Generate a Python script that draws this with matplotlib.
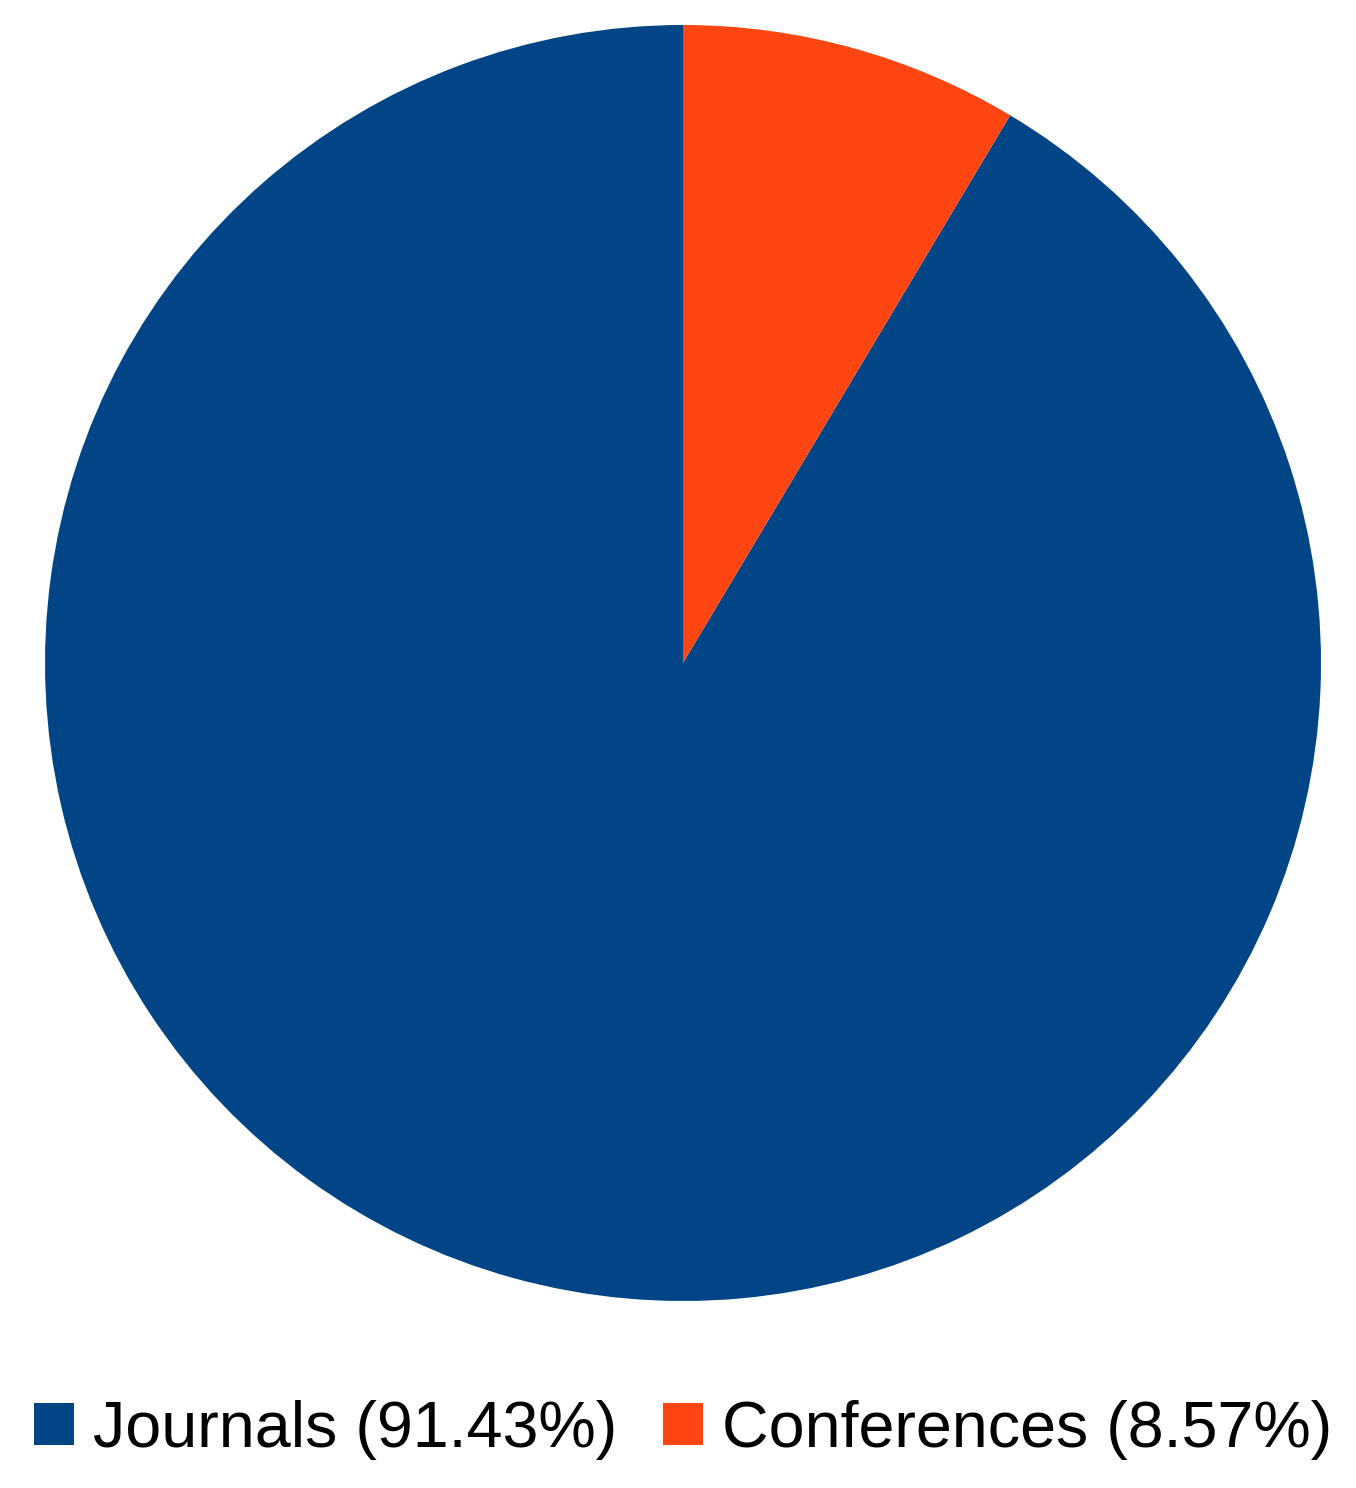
import matplotlib
matplotlib.use('Agg')
import matplotlib.pyplot as plt
from matplotlib.patches import Patch

categories = ["Journals", "Conferences"]
shares = [91.43, 8.57]
colors = ["#024586", "#FF4511"]

plt.rcParams['font.family'] = ['Liberation Sans', 'DejaVu Sans']

fig = plt.figure(figsize=(13.56, 14.88), dpi=100)
W, H = 1356, 1488
cx, cy, r = 683, 663, 638
ax = fig.add_axes([(cx - r) / W, 1 - (cy + r) / H, 2 * r / W, 2 * r / H])

start = 90 - shares[1] * 3.6
ax.pie(shares, colors=colors, startangle=start, counterclock=False, radius=1,
       wedgeprops=dict(linewidth=0))
ax.set_xlim(-1, 1)
ax.set_ylim(-1, 1)
ax.set_aspect('equal')
ax.axis('off')

handles = [Patch(facecolor=c, edgecolor='none') for c in colors]
labels = [f"{n} ({v:.2f}%)" for n, v in zip(categories, shares)]
fig.legend(handles, labels, loc='center', bbox_to_anchor=(683 / W, 1 - 1430 / H),
           ncol=2, frameon=False, fontsize=46.5, handlelength=0.62, handleheight=0.62,
           handletextpad=0.3, columnspacing=0.7, borderpad=0, borderaxespad=0)

fig.savefig("out.png", dpi=100)
plt.close(fig)
